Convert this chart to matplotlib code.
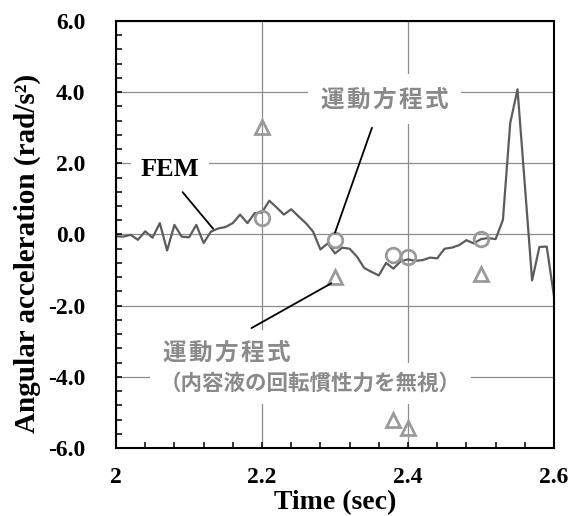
import matplotlib
matplotlib.use("Agg")
import matplotlib.pyplot as plt
from matplotlib.ticker import MultipleLocator, FixedLocator, FixedFormatter

# ---------------- data ----------------
fem_time = [2.00, 2.01, 2.02, 2.03, 2.04, 2.05, 2.06, 2.07, 2.08, 2.09,
            2.10, 2.11, 2.12, 2.13, 2.14, 2.15, 2.16, 2.17, 2.18, 2.19,
            2.20, 2.21, 2.22, 2.23, 2.24, 2.25, 2.26, 2.27, 2.28, 2.29,
            2.30, 2.31, 2.32, 2.33, 2.34, 2.35, 2.36, 2.37, 2.38, 2.39,
            2.40, 2.41, 2.42, 2.43, 2.44, 2.45, 2.46, 2.47, 2.48, 2.49,
            2.50, 2.51, 2.52, 2.53, 2.54, 2.55, 2.56, 2.57, 2.58, 2.59,
            2.60]
fem_acc = [-0.05, -0.06, -0.01, -0.15, 0.09, -0.09, 0.32, -0.45, 0.27, -0.06,
           -0.08, 0.27, -0.24, 0.08, 0.17, 0.21, 0.32, 0.56, 0.32, 0.60,
           0.62, 0.95, 0.76, 0.56, 0.71, 0.51, 0.32, 0.08, -0.42, -0.25,
           -0.53, -0.37, -0.40, -0.62, -0.94, -1.05, -1.15, -0.80, -0.96, -0.75,
           -0.70, -0.74, -0.72, -0.65, -0.67, -0.40, -0.37, -0.30, -0.16, -0.25,
           -0.13, -0.10, -0.13, 0.41, 3.13, 4.08, 1.40, -1.29, -0.35, -0.34,
           -1.74]

eq_time = [2.20, 2.30, 2.38, 2.40, 2.50]
eq_acc = [0.46, -0.16, -0.58, -0.64, -0.12]

eq_noinertia_time = [2.20, 2.30, 2.38, 2.40, 2.50]
eq_noinertia_acc = [3.03, -1.20, -5.22, -5.44, -1.12]

x_ticks = [2.0, 2.2, 2.4, 2.6]
x_ticklabels = ["2", "2.2", "2.4", "2.6"]
y_ticks = [-6.0, -4.0, -2.0, 0.0, 2.0, 4.0, 6.0]
y_ticklabels = ["-6.0", "-4.0", "-2.0", "0.0", "2.0", "4.0", "6.0"]

label_fem = "FEM"
label_eq = "運\u200a動\u200a方\u200a程\u200a式"
label_eq2_line1 = "運\u200a動\u200a方\u200a程\u200a式"
label_eq2_line2 = "（内容液の回転慣性力を無視）"
x_label = "Time (sec)"
y_label = "Angular acceleration (rad/s²)"

# ---------------- style ----------------
serif = ["Liberation Serif", "DejaVu Serif"]
jp = ["Noto Sans CJK JP", "DejaVu Sans"]
plt.rcParams["font.family"] = serif
plt.rcParams["font.weight"] = "bold"

gray_text = "#8a8a8a"
marker_gray = "#9a9a9a"
line_gray = "#5c5c5c"

fig = plt.figure(figsize=(5.78, 5.16), dpi=100)
ax = fig.add_axes([0.2007, 0.1318, 0.7578, 0.8275])

ax.set_xlim(2.0, 2.6)
ax.set_ylim(-6.0, 6.0)

ax.set_axisbelow(True)
ax.grid(True, which="major", color="#8c8c8c", linewidth=0.9)

ax.plot(fem_time, fem_acc, color=line_gray, linewidth=1.6, zorder=4)
ax.plot(eq_time, eq_acc, linestyle="none", marker="o", markersize=10.5,
        markerfacecolor="none", markeredgecolor=marker_gray, markeredgewidth=2.0, zorder=5)
ax.plot(eq_noinertia_time, eq_noinertia_acc, linestyle="none", marker="^", markersize=9.5,
        markerfacecolor="none", markeredgecolor=marker_gray, markeredgewidth=2.0, zorder=5)

# ticks
ax.xaxis.set_major_locator(FixedLocator(x_ticks))
ax.xaxis.set_major_formatter(FixedFormatter(x_ticklabels))
ax.yaxis.set_major_locator(FixedLocator(y_ticks))
ax.yaxis.set_major_formatter(FixedFormatter(y_ticklabels))
ax.xaxis.set_minor_locator(MultipleLocator(0.04))
ax.yaxis.set_minor_locator(MultipleLocator(0.4))
ax.tick_params(which="both", direction="in", top=False, right=False,
               length=4, width=1.1, color="black", labelsize=17)
ax.tick_params(axis="y", which="major", pad=22)
ax.tick_params(axis="x", which="major", pad=14)

for s in ax.spines.values():
    s.set_linewidth(1.5)
    s.set_color("black")
    s.set_zorder(6)

ax.set_xlabel(x_label, fontweight="bold", fontsize=20)
ax.xaxis.set_label_coords(0.5, -0.098)
ax.set_ylabel(y_label, fontweight="bold", fontsize=21)
ax.yaxis.set_label_coords(-0.172, 0.455)

# annotations
ax.text(2.0739, 1.82, label_fem, ha="center", va="center",
        fontweight="bold", fontsize=19, color="black",
        bbox=dict(facecolor="white", edgecolor="none", boxstyle="square,pad=0.35"), zorder=3)
ax.annotate("", xy=(2.1331, 0.16), xytext=(2.0912, 1.19),
            arrowprops=dict(arrowstyle="-", color="black", lw=1.3, shrinkA=0, shrinkB=0),
            zorder=6)

ax.text(2.368, 3.80, label_eq, ha="center", va="center", fontfamily=jp,
        fontweight="bold", fontsize=17, color=gray_text,
        bbox=dict(facecolor="white", edgecolor="none", boxstyle="square,pad=0.55"), zorder=3)
ax.annotate("", xy=(2.300, 0.05), xytext=(2.3506, 3.0),
            arrowprops=dict(arrowstyle="-", color="black", lw=1.3, shrinkA=0, shrinkB=0),
            zorder=6)

ax.text(2.0643, -3.32, label_eq2_line1, ha="left", va="center", fontfamily=jp,
        fontweight="bold", fontsize=17, color=gray_text,
        bbox=dict(facecolor="white", edgecolor="none", boxstyle="square,pad=0.45"), zorder=3)
ax.text(2.0602, -4.19, label_eq2_line2, ha="left", va="center", fontfamily=jp,
        fontweight="bold", fontsize=15.5, color=gray_text,
        bbox=dict(facecolor="white", edgecolor="none", boxstyle="square,pad=0.45"), zorder=3)
ax.annotate("", xy=(2.295, -1.37), xytext=(2.1856, -2.63),
            arrowprops=dict(arrowstyle="-", color="black", lw=1.3, shrinkA=0, shrinkB=0),
            zorder=6)

fig.savefig("out.png", dpi=100)
